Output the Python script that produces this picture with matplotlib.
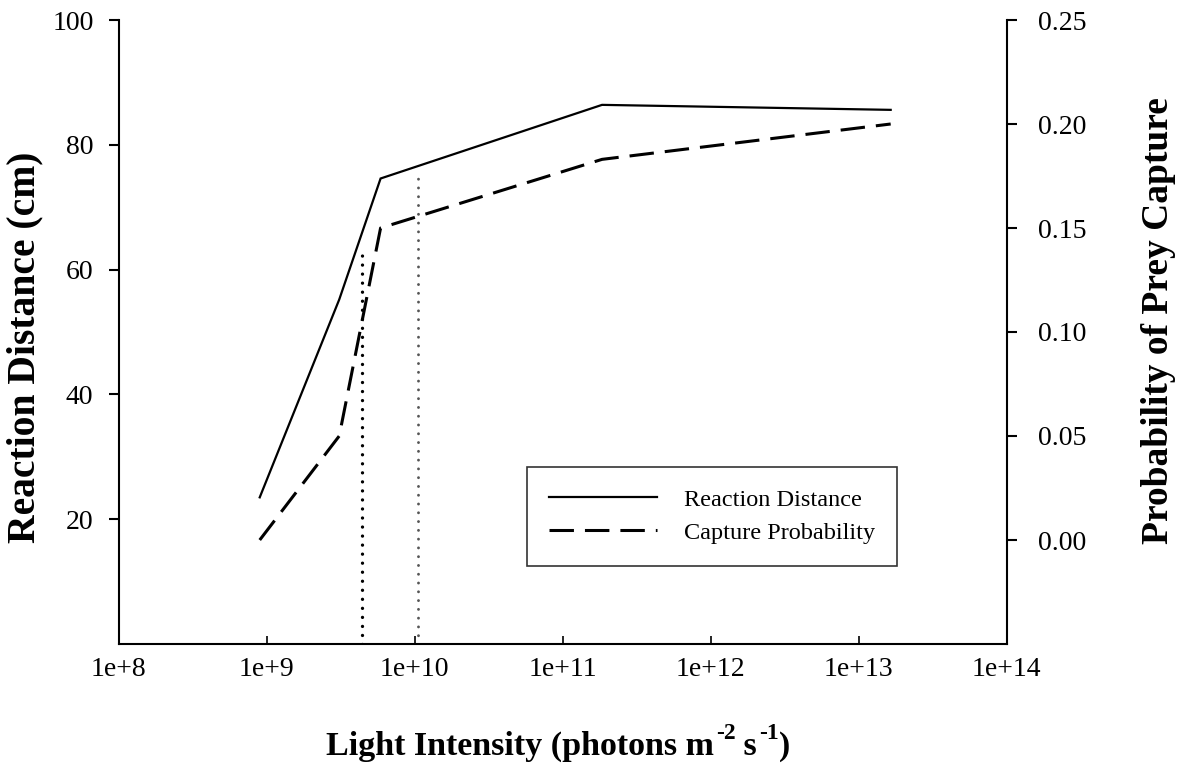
import numpy as np
import matplotlib as mpl
mpl.use('Agg')
import matplotlib.pyplot as plt

mpl.rc('font', family='Liberation Serif', size=20)

# light intensity (photons m-2 s-1)
light = [9.0e8, 3.1e9, 5.9e9, 1.85e11, 1.65e13]
# reaction distance (cm), left axis
reaction = [23.5, 55.2, 74.6, 86.4, 85.6]
# capture probability, right axis
capture = [0.0, 0.05, 0.15, 0.183, 0.20]

# dotted reference lines: x position and top (reaction distance units)
ref_x = [4.4e9, 1.05e10]
ref_top = [63.0, 75.5]

xticks = [1e8, 1e9, 1e10, 1e11, 1e12, 1e13, 1e14]
xticklabels = ['1e+8', '1e+9', '1e+10', '1e+11', '1e+12', '1e+13', '1e+14']

# x label pieces: (text, is superscript)
xlabel_parts = [('Light Intensity (photons m', False), ('-2', True), (' s', False),
                ('-1', True), (')', False)]

W, H = 1178, 768
fig = plt.figure(figsize=(W / 100, H / 100), dpi=100)
ax = fig.add_axes([118.5 / W, 1 - 644 / H, 888 / W, 624 / H])
ax2 = ax.twinx()

ax.plot(light, reaction, color='black', linewidth=1.6, solid_joinstyle='miter')
ax2.plot(light, capture, color='black', linewidth=2.2, dashes=(8, 3.6))

ax.plot([ref_x[0], ref_x[0]], [0, ref_top[0]], color='black', linewidth=2.4,
        dashes=(0.01, 2.7), dash_capstyle='round')
ax.plot([ref_x[1], ref_x[1]], [0, ref_top[1]], color='#555555', linewidth=2.1,
        dashes=(0.01, 3.0), dash_capstyle='round')

ax.set_xscale('log')
ax.set_xlim(1e8, 1e14)
ax.set_ylim(0, 100)
ax2.set_ylim(-0.05, 0.25)

ax.set_xticks(xticks)
ax.set_xticklabels(xticklabels)
ax.xaxis.set_minor_locator(mpl.ticker.NullLocator())
ax.set_yticks([20, 40, 60, 80, 100])
ax2.set_yticks([0.0, 0.05, 0.10, 0.15, 0.20, 0.25])
ax2.set_yticklabels(['0.00', '0.05', '0.10', '0.15', '0.20', '0.25'])

for a in (ax, ax2):
    a.spines['top'].set_visible(False)
    for s in a.spines.values():
        s.set_linewidth(1.5)
ax.spines['right'].set_visible(False)
ax2.spines['left'].set_visible(False)
ax2.spines['bottom'].set_visible(False)

ax.tick_params(axis='x', direction='in', length=6, width=1.2, pad=9)
ax.tick_params(axis='y', direction='out', length=7, width=1.5, pad=11)
ax2.tick_params(axis='y', direction='out', length=7, width=1.5, pad=16)

ax.set_ylabel('Reaction Distance (cm)', fontsize=28.5, fontweight='bold')
ax.yaxis.set_label_coords(-0.085, 0.475)
ax2.set_ylabel('Probability of Prey Capture', fontsize=27, fontweight='bold', rotation=90)
ax2.yaxis.set_label_coords(1.152, 0.519)

# x label with bold superscripts, laid out piece by piece
renderer = fig.canvas.get_renderer()
texts = []
for s, sup in xlabel_parts:
    t = fig.text(0, 0, s, fontsize=17 if sup else 24.5, fontweight='bold',
                 ha='left', va='baseline')
    texts.append((t, sup))
widths = [t.get_window_extent(renderer).width + (2 if sup else 0) for t, sup in texts]
x0 = 118.5 + 0.495 * 888 - sum(widths) / 2
base = H - 755
for (t, sup), w in zip(texts, widths):
    t.set_position(((x0 + (2 if sup else 0)) / W, (base + (16 if sup else 0)) / H))
    x0 += w

h1 = mpl.lines.Line2D([], [], color='black', linewidth=1.6)
h2 = mpl.lines.Line2D([], [], color='black', linewidth=2.2, dashes=(8, 3.6))
leg = ax.legend([h1, h2], ['Reaction Distance', 'Capture Probability'],
                loc='upper left', bbox_to_anchor=(527 / W, 1 - 467 / H),
                bbox_transform=fig.transFigure, borderaxespad=0,
                fontsize=17.5, frameon=True, fancybox=False, edgecolor='black',
                handlelength=4.45, handletextpad=1.1, labelspacing=0.45,
                borderpad=0.9)
leg.get_frame().set_linewidth(1.2)

fig.savefig('out.png', dpi=100)
